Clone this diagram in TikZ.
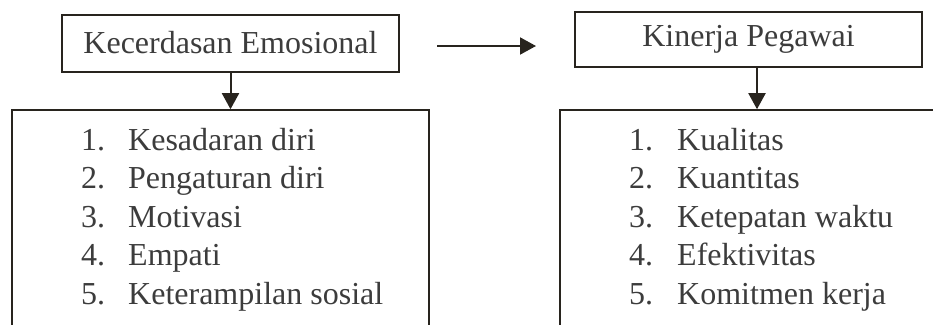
\documentclass[tikz,border=0pt]{standalone}
\usepackage{fontspec}
\setmainfont{Liberation Serif}
\usetikzlibrary{arrows.meta,calc}
\definecolor{linec}{RGB}{40,36,30}
\definecolor{textc}{RGB}{60,60,60}
\begin{document}
\begin{tikzpicture}[x=1pt,y=-1pt,
  hbox/.style={draw=linec,line width=2pt,inner sep=0pt,font=\fontsize{32}{38}\selectfont,text=textc},
  listbox/.style={draw=linec,line width=1.6pt,inner sep=0pt},
  num/.style={anchor=base west,inner sep=0pt,font=\fontsize{32}{38}\selectfont,text=textc},
  arr/.style={draw=linec,line width=2pt,-{Triangle[length=16pt,width=17pt]}}]
\clip (0,0) rectangle (933,324);
\useasboundingbox (0,0) rectangle (933,324);
% top boxes
\node[hbox,minimum width=337pt,minimum height=57pt] (kec) at (230.5,43) {Kecerdasan Emosional};
\node[hbox,minimum width=347pt,minimum height=55pt] (kp) at (748.5,39.5) {Kinerja Pegawai};
% bottom list boxes (open below the picture edge)
\node[listbox,minimum width=417pt,minimum height=260pt] (l1) at (220.5,240) {};
\node[listbox,minimum width=420pt,minimum height=260pt] (l2) at (770,240) {};
% arrows
\draw[arr] (kec.south) -- (kec.south |- l1.north);
\draw[arr] ([xshift=8.5pt]kp.south) -- ([xshift=8.5pt]kp.south |- l2.north);
\coordinate (hs) at (437,46);
\coordinate (he) at (536,46);
\draw[arr] (hs) -- (he);
% left list
\foreach \n/\t/\y in {1/Kesadaran diri/150,2/Pengaturan diri/188.5,3/Motivasi/227,4/Empati/265.5,5/Keterampilan sosial/304}{
  \node[num] (ln\n) at (81,\y) {\n.};
  \node[num] (lt\n) at (128,\y) {\t};
}
% right list
\foreach \n/\t/\y in {1/Kualitas/150,2/Kuantitas/188.5,3/Ketepatan waktu/227,4/Efektivitas/265.5,5/Komitmen kerja/304}{
  \node[num] (rn\n) at (629,\y) {\n.};
  \node[num] (rt\n) at (677,\y) {\t};
}
\end{tikzpicture}
\end{document}
